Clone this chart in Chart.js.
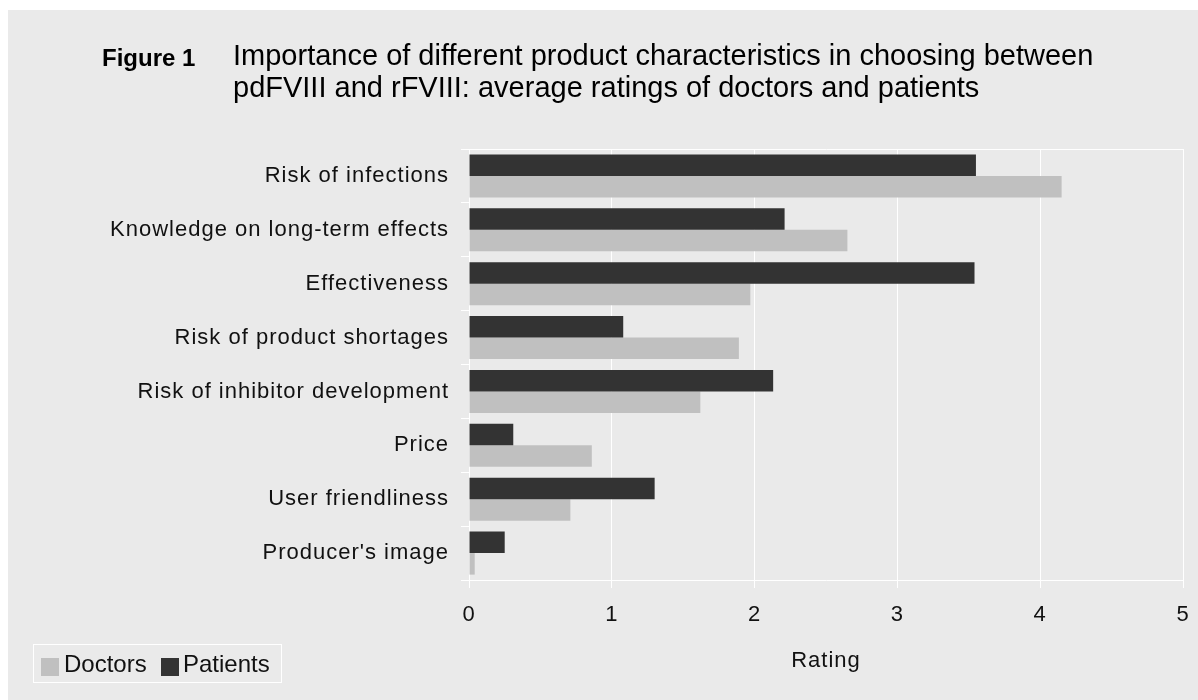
<!DOCTYPE html>
<html>
<head>
<meta charset="utf-8">
<script src="https://cdn.jsdelivr.net/npm/chart.js@4.4.0/dist/chart.umd.min.js"></script>
<style>
  body { margin: 0; background: #fff; font-family: "Liberation Sans", Arial, sans-serif; color: #111; }
  #panel { position: absolute; left: 8px; top: 10px; width: 1190px; height: 690px; background: #eaeaea; }
  #wrap { position: absolute; left: 0; top: 0; width: 1198px; height: 700px; }
  .fig { position: absolute; left: 102px; top: 42px; font-size: 24px; line-height: 32px; font-weight: bold; color: #000; }
  .caption { position: absolute; left: 233px; top: 39px; font-size: 29px; line-height: 32px; color: #000; white-space: nowrap; }
  .legend { position: absolute; left: 33px; top: 644px; width: 247px; height: 37px; border: 1px solid #fff; }
  .sw { position: absolute; width: 18px; height: 18px; top: 13px; }
  .lt { position: absolute; top: 5px; font-size: 24px; line-height: 28px; }
</style>
</head>
<body>
<div id="panel"></div>
<div id="wrap"><canvas id="barChart"></canvas></div>
<div class="fig">Figure 1</div>
<div class="caption">Importance of different product characteristics in choosing between<br>pdFVIII and rFVIII: average ratings of doctors and patients</div>
<div class="legend">
  <span class="sw" style="left:7px;background:#c0c0c0"></span><span class="lt" style="left:30px">Doctors</span>
  <span class="sw" style="left:127px;background:#333333"></span><span class="lt" style="left:149px">Patients</span>
</div>
<script>
const categories = [
  "Risk of infections",
  "Knowledge on long-term effects",
  "Effectiveness",
  "Risk of product shortages",
  "Risk of inhibitor development",
  "Price",
  "User friendliness",
  "Producer's image"
];
const patients = [3.55, 2.21, 3.54, 1.08, 2.13, 0.31, 1.30, 0.25];
const doctors = [4.15, 2.65, 1.97, 1.89, 1.62, 0.86, 0.71, 0.04];
const ratingTicks = [0, 1, 2, 3, 4, 5];

const font = "'Liberation Sans', Arial, sans-serif";

// the axis text is set a little loose; apply before layout measures it and before drawing
const spacing = {
  id: "spacing",
  beforeUpdate: (chart) => { chart.ctx.letterSpacing = "1px"; },
  beforeDraw: (chart) => { chart.ctx.letterSpacing = "1px"; }
};

new Chart("barChart", {
  type: "bar",
  data: {
    labels: categories,
    datasets: [
      { label: "Patients", data: patients, backgroundColor: "#333333" },
      { label: "Doctors", data: doctors, backgroundColor: "#c0c0c0" }
    ]
  },
  options: {
    indexAxis: "y",
    responsive: true,
    maintainAspectRatio: false,
    animation: false,
    categoryPercentage: 0.8,
    barPercentage: 1.0,
    layout: { padding: { top: 149, right: 15, bottom: 0, left: 0 } },
    plugins: { legend: { display: false }, tooltip: { enabled: false } },
    scales: {
      x: {
        min: ratingTicks[0],
        max: ratingTicks[ratingTicks.length - 1],
        afterFit: (s) => { s.height = 120; s.paddingRight = 0; },
        afterBuildTicks: (s) => { s.ticks = ratingTicks.map((v) => ({ value: v })); },
        border: { color: "#fff" },
        grid: { color: "#fff", tickColor: "#fff", tickLength: 8 },
        ticks: { color: "#111", padding: 14, font: { family: font, size: 22 } },
        title: {
          display: true,
          text: "Rating",
          color: "#111",
          font: { family: font, size: 22 },
          padding: { top: 0, bottom: 26 }
        }
      },
      y: {
        afterFit: (s) => { s.width = 469; },
        border: { color: "#fff" },
        grid: {
          offset: true,
          // only the top edge line is drawn across the plot
          color: (c) => (c.index === 0 ? "#fff" : "rgba(0,0,0,0)"),
          tickColor: "#fff",
          tickLength: 8
        },
        ticks: { color: "#111", padding: 12, font: { family: font, size: 22 } }
      }
    }
  },
  plugins: [spacing]
});
</script>
</body>
</html>
